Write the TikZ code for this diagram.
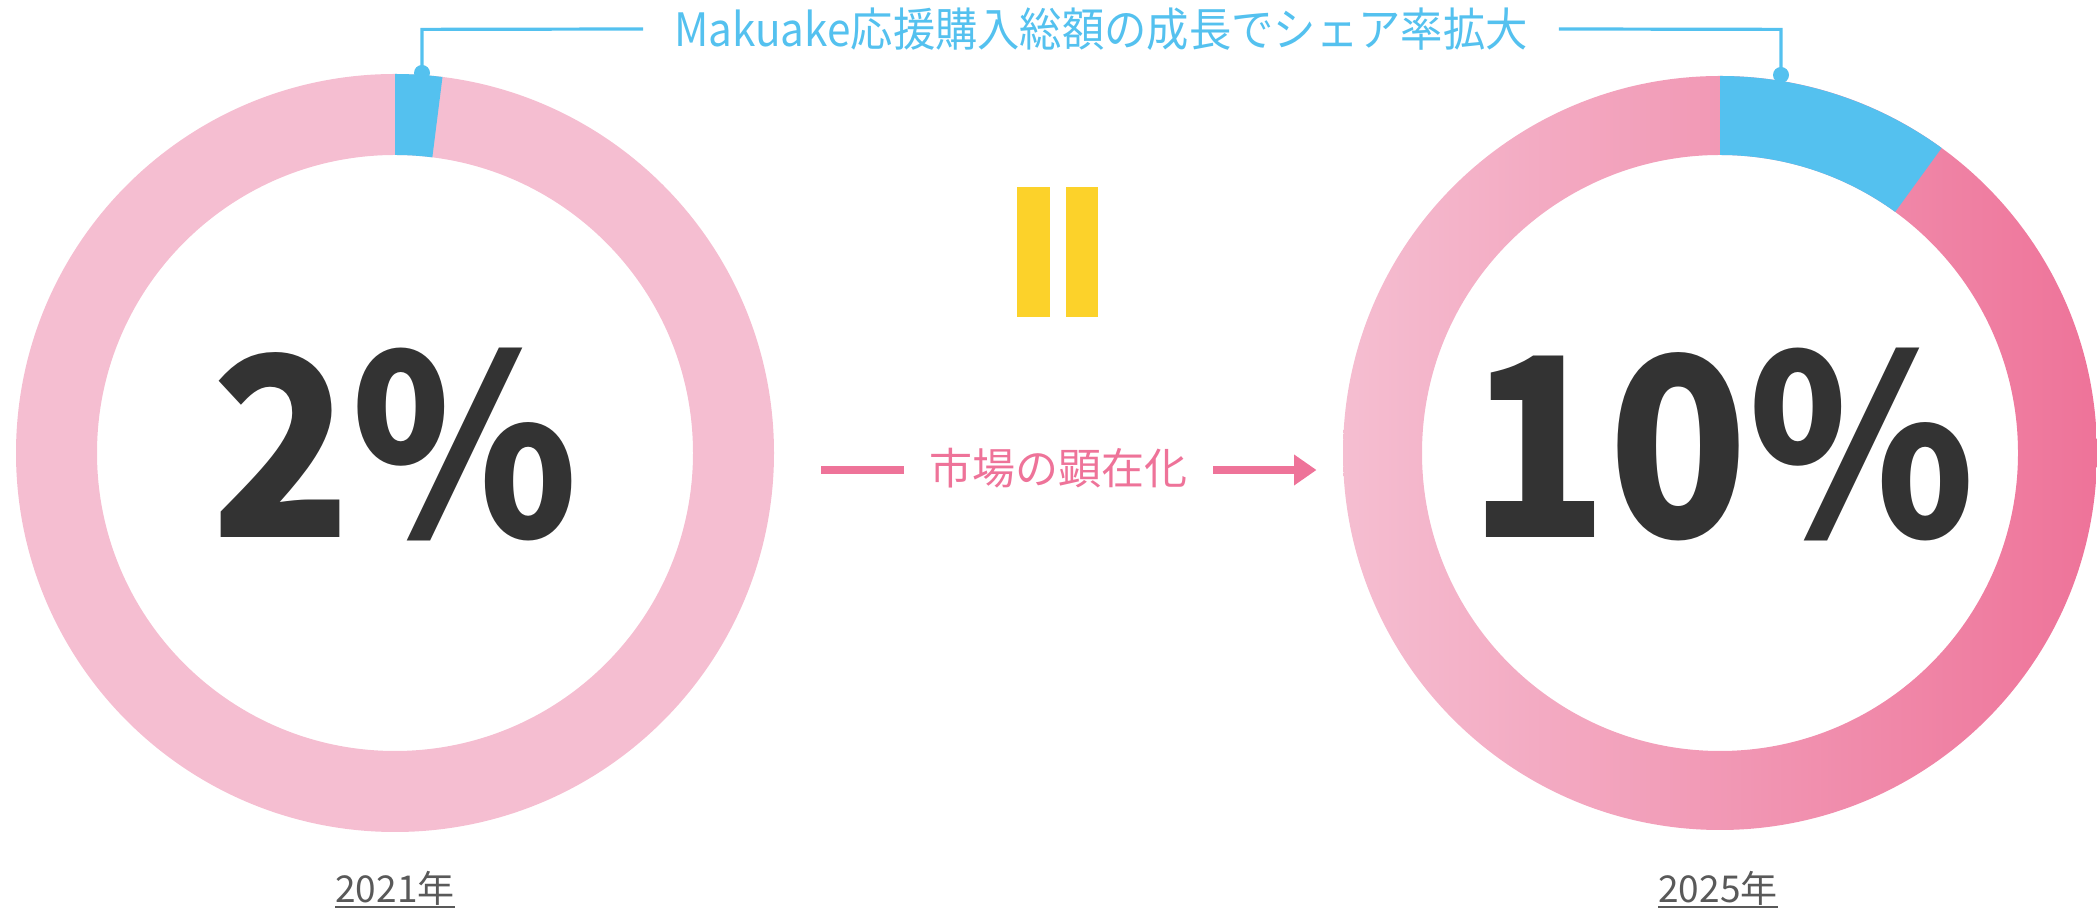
\documentclass[tikz,border=0pt]{standalone}
\usepackage{fontspec}
\newfontfamily\jp{Noto Sans CJK JP}
\usetikzlibrary{calc,arrows.meta}
\definecolor{ringpink}{HTML}{F5BED1}
\definecolor{mblue}{HTML}{54C1EF}
\definecolor{deeppink}{HTML}{EE7399}
\definecolor{myellow}{HTML}{FCD22A}
\definecolor{numgray}{HTML}{333333}
\definecolor{yeargray}{HTML}{595959}
\tikzset{
  leader/.style={mblue, line width=3.2pt},
  pinkline/.style={deeppink, line width=8pt},
  bignum/.style={numgray, inner sep=0pt, anchor=base, font=\jp\bfseries\fontsize{250}{250}\selectfont},
  yearlbl/.style={yeargray, inner sep=0pt, anchor=base, font=\jp\fontsize{37}{37}\selectfont},
  bar/.style={fill=myellow, draw=none}
}
\begin{document}
\begin{tikzpicture}[x=1pt,y=1pt]
\useasboundingbox (0,0) rectangle (2097,909);
\coordinate (cL) at (395,456);
\coordinate (cR) at (1720,456);
% left ring
\fill[ringpink, even odd rule] (cL) circle (379pt) (cL) circle (298pt);
\fill[mblue] ($(cL)+(90:379pt)$) arc[start angle=90, end angle=82.8, radius=379pt]
  -- ($(cL)+(82.8:298pt)$) arc[start angle=82.8, end angle=90, radius=298pt] -- cycle;
% right ring
\shade[left color=ringpink, right color=deeppink, even odd rule] (cR) circle (377pt) (cR) circle (298pt);
\fill[mblue] ($(cR)+(90:377pt)$) arc[start angle=90, end angle=54, radius=377pt]
  -- ($(cR)+(54:298pt)$) arc[start angle=54, end angle=90, radius=298pt] -- cycle;
% title and leaders
\node[mblue, inner ysep=0pt, inner xsep=31pt, font=\jp\fontsize{46}{46}\selectfont] (title) at (1101,880) {\scalebox{0.92}[1]{Makuake応援購入総額の成長でシェア率拡大}};
\coordinate (kL) at (422,879.6);
\coordinate (dotL) at (422,836);
\coordinate (kR) at (1781,879.6);
\coordinate (dotR) at (1781,834);
\draw[leader] (title.west) -- (kL) -- (dotL);
\draw[leader] (title.east) -- (kR) -- (dotR);
\fill[mblue] (dotL) circle (8pt);
\fill[mblue] (dotR) circle (8pt);
% big numbers
\node[bignum] (pL) at (395,371) {\scalebox{0.92}[1]{2\%}};
\node[bignum] (pR) at (1722,371) {\scalebox{0.92}[1]{10\%}};
% equals bars
\path[bar] (1017,592.3) rectangle (1050,721.7);
\path[bar] (1066,592.3) rectangle (1098.3,721.7);
% middle arrow
\node[deeppink, inner ysep=0pt, inner xsep=25.5pt, font=\jp\fontsize{43}{43}\selectfont] (mkt) at (1058.6,441) {市場の顕在化};
\coordinate (aL) at (821,439);
\coordinate (aR) at (1316.5,439);
\draw[pinkline] (mkt.west|-aL) -- (aL);
\draw[pinkline, -{Triangle[length=22.5pt,width=29.5pt]}] (mkt.east|-aR) -- (aR);
% years
\node[yearlbl] (yL) at (395,6) {2021年};
\node[yearlbl] (yR) at (1718,6) {2025年};
\draw[yeargray, line width=2pt] ([yshift=-3.6pt]yL.base west) -- ([yshift=-3.6pt]yL.base east);
\draw[yeargray, line width=2pt] ([yshift=-3.6pt]yR.base west) -- ([yshift=-3.6pt]yR.base east);
\end{tikzpicture}
\end{document}
